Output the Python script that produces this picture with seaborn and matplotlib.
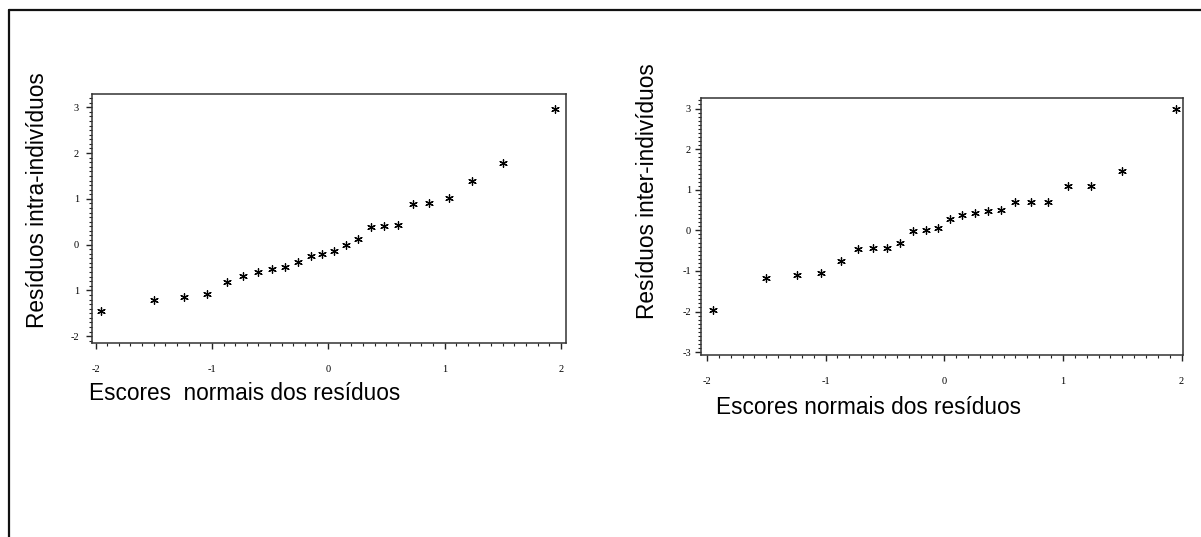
import matplotlib
matplotlib.use("Agg")
import matplotlib.pyplot as plt
from matplotlib.lines import Line2D
from matplotlib.ticker import MultipleLocator, FixedLocator, FixedFormatter
import seaborn as sns
import pandas as pd

# Normal scores (x) shared by both panels
normal_scores = [-1.95, -1.50, -1.24, -1.04, -0.87, -0.73, -0.60, -0.48,
                 -0.37, -0.26, -0.15, -0.05, 0.05, 0.15, 0.26, 0.37,
                 0.48, 0.60, 0.73, 0.87, 1.04, 1.24, 1.50, 1.95]

# Left panel: intra-individual residuals
intra_residuals = [-1.44, -1.22, -1.14, -1.07, -0.81, -0.68, -0.60, -0.54,
                   -0.48, -0.39, -0.24, -0.20, -0.15, 0.00, 0.12, 0.38,
                   0.41, 0.42, 0.88, 0.91, 1.02, 1.40, 1.78, 2.96]

# Right panel: inter-individual residuals
inter_residuals = [-1.96, -1.17, -1.11, -1.05, -0.75, -0.47, -0.43, -0.43,
                   -0.30, -0.02, 0.00, 0.05, 0.29, 0.39, 0.43, 0.47,
                   0.50, 0.69, 0.69, 0.70, 1.09, 1.09, 1.45, 2.98]

left_yticks = [-2, -1, 0, 1, 2, 3]
left_yticklabels = ["-2", "1", "0", "1", "2", "3"]
right_yticks = [-3, -2, -1, 0, 1, 2, 3]
right_yticklabels = ["-3", "-2", "-1", "0", "1", "2", "3"]
xticks = [-2, -1, 0, 1, 2]
xticklabels = ["-2", "-1", "0", "1", "2"]

xlabel_left = "Escores  normais dos resíduos"
xlabel_right = "Escores normais dos resíduos"
ylabel_left = "Resíduos intra-indivíduos"
ylabel_right = "Resíduos inter-indivíduos"

sns.set_theme(style="white")
plt.rcParams["font.family"] = ["Liberation Sans", "DejaVu Sans"]

W, H = 1201, 537
fig = plt.figure(figsize=(W / 100, H / 100), dpi=100)
fig.patch.set_facecolor("white")

def px_axes(x0, y0, x1, y1):
    return fig.add_axes([x0 / W, 1 - y1 / H, (x1 - x0) / W, (y1 - y0) / H])

ax1 = px_axes(91.5, 94, 565.5, 343)
ax2 = px_axes(700.7, 98, 1183, 355)

df1 = pd.DataFrame({"x": normal_scores, "y": intra_residuals})
df2 = pd.DataFrame({"x": normal_scores, "y": inter_residuals})

for ax, df in ((ax1, df1), (ax2, df2)):
    sns.scatterplot(data=df, x="x", y="y", ax=ax, marker=(6, 2, 0), s=30,
                    color="black", linewidth=0.9, legend=False)

def style_axes(ax, xlim, ylim, yticks, yticklabels, xlabel, ylabel,
               xl_pos, yl_pos, xl_size, yl_size, ypad):
    ax.set_xlim(*xlim)
    ax.set_ylim(*ylim)
    ax.xaxis.set_major_locator(FixedLocator(xticks))
    ax.xaxis.set_major_formatter(FixedFormatter(xticklabels))
    ax.yaxis.set_major_locator(FixedLocator(yticks))
    ax.yaxis.set_major_formatter(FixedFormatter(yticklabels))
    ax.xaxis.set_minor_locator(MultipleLocator(0.1))
    ax.yaxis.set_minor_locator(MultipleLocator(0.1))
    ax.tick_params(axis="both", which="both", direction="out", color="#222222",
                   bottom=True, left=True, top=False, right=False)
    ax.tick_params(axis="both", which="major", length=4, width=1.0,
                   labelsize=7.5, labelcolor="black")
    ax.tick_params(axis="both", which="minor", length=2, width=0.8)
    ax.tick_params(axis="x", which="major", pad=12)
    ax.tick_params(axis="y", which="major", pad=ypad)
    for lab in ax.get_xticklabels() + ax.get_yticklabels():
        lab.set_family("Liberation Serif")
    for sp in ax.spines.values():
        sp.set_visible(True)
        sp.set_color("#333333")
        sp.set_linewidth(1.1)
    ax.set_xlabel("")
    ax.set_ylabel("")
    fig.text(xl_pos[0] / W, 1 - xl_pos[1] / H, xlabel, fontsize=xl_size,
             ha="left", va="center", color="black")
    fig.text(yl_pos[0] / W, 1 - yl_pos[1] / H, ylabel, fontsize=yl_size,
             rotation=90, ha="center", va="center", color="black")

style_axes(ax1, (-2.035, 2.04), (-2.15, 3.29), left_yticks, left_yticklabels,
           xlabel_left, ylabel_left, (89, 393), (38, 200), 16.3, 16.3, 5)
style_axes(ax2, (-2.053, 2.012), (-3.07, 3.26), right_yticks, right_yticklabels,
           xlabel_right, ylabel_right, (716, 408), (648, 191), 16.3, 16.3, 3)

# outer frame (top and left edges)
fig.add_artist(Line2D([9 / W, 1.0], [1 - 10 / H, 1 - 10 / H],
                      transform=fig.transFigure, color="#111111", lw=1.6))
fig.add_artist(Line2D([9 / W, 9 / W], [1 - 10 / H, 0.0],
                      transform=fig.transFigure, color="#111111", lw=1.6))

fig.savefig("out.png", dpi=100, facecolor="white")
